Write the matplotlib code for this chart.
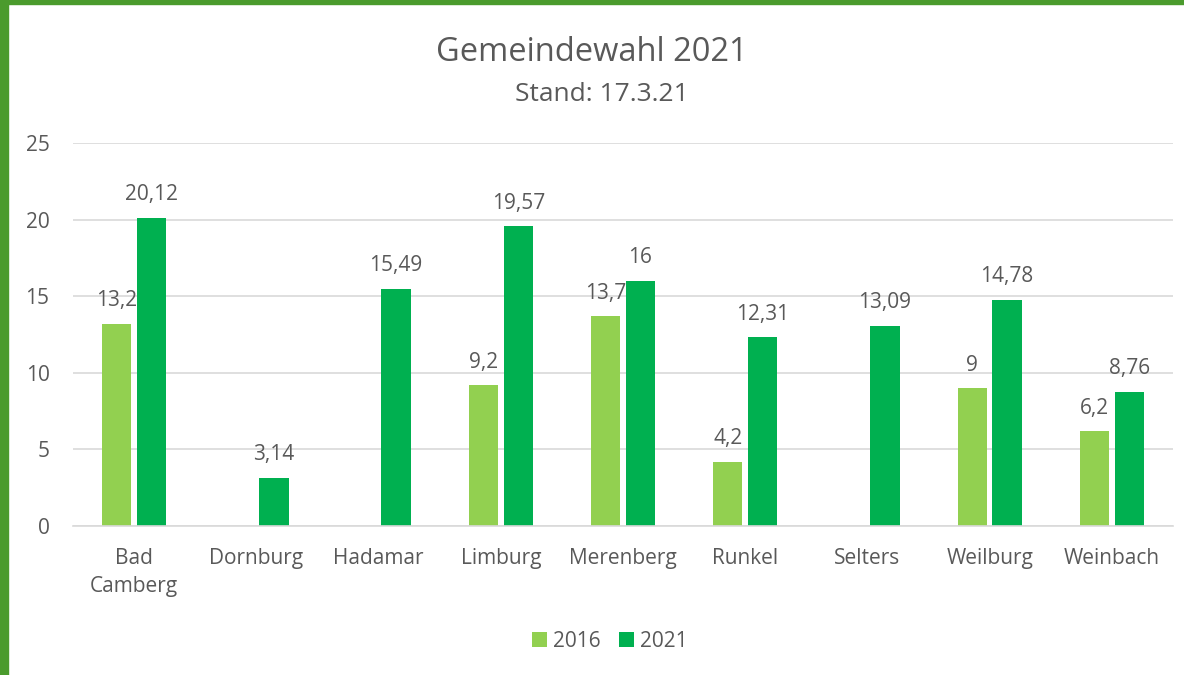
import numpy as np
import matplotlib.pyplot as plt
from matplotlib.patches import Rectangle

# Data
orte = ['Bad\nCamberg', 'Dornburg', 'Hadamar', 'Limburg', 'Merenberg',
        'Runkel', 'Selters', 'Weilburg', 'Weinbach']
werte_2016 = [13.2, np.nan, np.nan, 9.2, 13.7, 4.2, np.nan, 9.0, 6.2]
werte_2021 = [20.12, 3.14, 15.49, 19.57, 16.0, 12.31, 13.09, 14.78, 8.76]
yticks = [0, 5, 10, 15, 20, 25]

grau = '#595959'
plt.rcParams['font.family'] = ['Open Sans', 'DejaVu Sans']

fig = plt.figure(figsize=(11.84, 6.75), dpi=100)
ax = fig.add_axes([0.0617, 0.2207, 0.929, 0.5673])

x = np.arange(len(orte))
w = 0.24
off = 0.143
b1 = ax.bar(x - off, werte_2016, w, color='#92d050', label='2016')
b2 = ax.bar(x + off, werte_2021, w, color='#00b050', label='2021')


def fmt(v):
    if np.isnan(v):
        return ''
    return ('%g' % v).replace('.', ',')


ax.bar_label(b1, labels=[fmt(v) for v in werte_2016], padding=9,
             fontsize=15, color=grau)
ax.bar_label(b2, labels=[fmt(v) for v in werte_2021], padding=9,
             fontsize=15, color=grau)

ax.set_xlim(-0.5, len(orte) - 0.5)
ax.set_ylim(0, 25)
ax.set_yticks(yticks)
ax.set_xticks(x)
ax.set_xticklabels(orte, fontsize=15, color=grau, linespacing=1.45)
ax.tick_params(axis='y', labelsize=15, labelcolor=grau, length=0, pad=17)
ax.tick_params(axis='x', length=0, pad=16)
ax.grid(axis='y', color='#d9d9d9', linewidth=1.2)
ax.set_axisbelow(True)
for s in ['top', 'right', 'left']:
    ax.spines[s].set_visible(False)
ax.spines['bottom'].set_color('#d9d9d9')
ax.spines['bottom'].set_linewidth(1.2)

fig.text(0.5, 0.922, 'Gemeindewahl 2021', ha='center', va='center',
         fontsize=23.5, color=grau)
fig.text(0.508, 0.86, 'Stand: 17.3.21', ha='center', va='center',
         fontsize=19, color=grau)

fig.legend(handles=[b1, b2], loc='center', bbox_to_anchor=(0.515, 0.05),
           ncol=2, frameon=False, fontsize=15, labelcolor=grau,
           handlelength=0.7, handleheight=0.7, handletextpad=0.3,
           columnspacing=0.9)

# green frame on the left and top
fig.patches.append(Rectangle((0, 0), 8 / 1184, 1, transform=fig.transFigure,
                             color='#4b9b2d', zorder=10))
fig.patches.append(Rectangle((0, 1 - 4 / 675), 1, 4 / 675,
                             transform=fig.transFigure, color='#4b9b2d',
                             zorder=10))

fig.savefig('out.png', dpi=100)
